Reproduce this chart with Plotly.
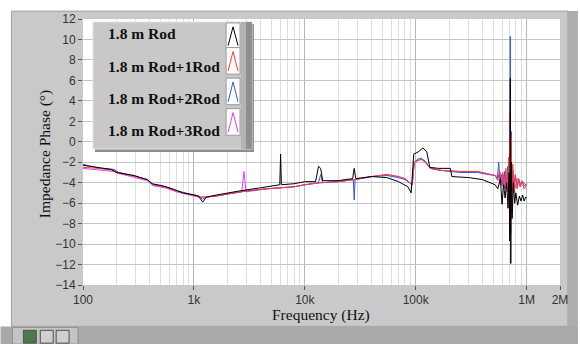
import plotly.graph_objects as go

# ---------------- data ----------------
freq_black = [100, 130, 180, 200, 290, 330, 380, 420, 520, 640, 800, 1000, 1100, 1200, 1300,
              1600, 2000, 2600, 4000, 5500, 5950, 6050, 6150, 8000, 10000, 12500, 13300, 13900,
              14500, 20000, 27000, 27900, 28800, 40000, 55000, 70000, 85000, 91000, 96000,
              105000, 116000, 126000, 134000, 160000, 205000, 212000, 300000, 400000, 480000,
              520000, 550000, 580000, 600000, 620000, 640000, 660000, 680000, 695000, 705000,
              713000, 720000, 728000, 740000, 760000, 780000, 800000, 830000, 860000, 890000,
              920000, 950000, 980000, 1000000]
phase_black = [-2.3, -2.5, -2.7, -3.0, -3.3, -3.5, -3.7, -4.1, -4.3, -4.6, -5.0, -5.2, -5.3, -5.9, -5.4,
               -5.2, -5.0, -4.8, -4.5, -4.2, -4.2, -1.2, -4.2, -4.1, -3.9, -3.9, -2.4, -2.6,
               -3.8, -3.8, -3.6, -2.6, -3.6, -3.4, -3.5, -3.9, -4.4, -5.0, -1.2,
               -1.0, -0.6, -1.0, -2.5, -2.6, -2.6, -3.4, -3.5, -3.7, -4.0,
               -4.2, -4.6, -3.6, -6.1, -4.2, -5.5, -4.0, -6.5, -3.0, -9.7,
               6.2, -11.9, -2.0, -7.5, -4.0, -6.0, -5.0, -6.2, -5.3, -5.8,
               -5.2, -5.8, -5.4, -5.5]

freq_red = [100, 140, 190, 210, 300, 380, 430, 550, 700, 900, 1100, 1300, 1600, 2000, 3000,
            4500, 6000, 8000, 10000, 14000, 20000, 28000, 40000, 55000, 70000, 80000, 88000,
            93000, 97000, 105000, 112000, 122000, 135000, 170000, 250000, 360000, 450000,
            520000, 550000, 570000, 590000, 610000, 630000, 650000, 670000, 690000, 700000,
            710000, 718000, 726000, 735000, 750000, 770000, 790000, 820000, 850000, 880000,
            910000, 950000, 1000000]
phase_red = [-2.5, -2.6, -2.8, -3.0, -3.4, -3.7, -4.2, -4.4, -4.8, -5.1, -5.4, -5.4, -5.3, -5.1, -4.8,
             -4.6, -4.5, -4.4, -4.2, -4.0, -3.9, -3.7, -3.4, -3.2, -3.4, -3.6, -4.0,
             -4.2, -2.0, -1.8, -1.7, -2.0, -2.6, -2.8, -2.9, -2.9, -3.1,
             -3.3, -3.8, -2.8, -4.3, -3.0, -4.6, -2.6, -4.9, -1.5, -5.5,
             2.8, -9.0, 0.5, -7.0, -2.2, -5.0, -3.2, -4.6, -3.6, -4.4,
             -3.8, -4.6, -4.2]

freq_blue = [100, 140, 190, 210, 300, 380, 430, 550, 700, 900, 1100, 1200, 1300, 1600, 2000,
             3000, 4500, 6000, 8000, 10000, 13300, 13900, 14500, 20000, 27400, 27900, 28400,
             40000, 55000, 70000, 80000, 88000, 93000, 97000, 105000, 112000, 122000, 135000,
             170000, 250000, 360000, 450000, 520000, 545000, 560000, 575000, 595000, 615000,
             635000, 655000, 675000, 695000, 705000, 712000, 719000, 727000, 737000, 752000,
             772000, 792000, 822000, 852000, 882000, 912000, 952000, 1000000]
phase_blue = [-2.2, -2.6, -2.7, -3.0, -3.4, -3.7, -4.2, -4.4, -4.8, -5.1, -5.3, -5.6, -5.4, -5.3, -5.1,
              -4.8, -4.6, -4.5, -4.4, -4.2, -4.0, -3.2, -4.0, -3.9, -3.7, -5.7, -3.7,
              -3.4, -3.3, -3.5, -3.7, -4.0, -4.2, -2.0, -1.7, -1.6, -1.9, -2.6,
              -2.8, -3.0, -3.0, -3.2, -3.3, -3.6, -2.0, -4.0, -3.2, -4.4,
              -2.9, -4.6, -2.4, -5.0, -3.0, 10.3, -6.0, 1.0, -5.0, -2.8,
              -4.4, -3.3, -4.3, -3.7, -4.2, -3.9, -4.3, -4.1]

freq_magenta = [100, 150, 190, 210, 300, 380, 430, 550, 700, 900, 1100, 1300, 1600, 2000, 2700,
                2830, 2950, 4500, 6000, 8000, 10000, 14000, 20000, 28000, 40000, 55000, 70000,
                80000, 88000, 93000, 97000, 105000, 112000, 122000, 135000, 170000, 250000,
                360000, 450000, 520000, 555000, 575000, 600000, 625000, 650000, 675000, 695000,
                708000, 716000, 724000, 740000, 760000, 790000, 830000, 870000, 920000, 1000000]
phase_magenta = [-2.6, -2.75, -2.9, -3.1, -3.5, -3.8, -4.3, -4.5, -4.9, -5.2, -5.4, -5.4, -5.3, -5.1, -4.9,
                 -2.9, -4.9, -4.6, -4.5, -4.4, -4.2, -4.0, -3.9, -3.7, -3.4, -3.2, -3.4,
                 -3.6, -4.0, -4.2, -2.0, -1.8, -1.7, -2.0, -2.6, -2.8, -2.9,
                 -2.9, -3.1, -3.3, -3.4, -3.0, -4.1, -3.2, -4.5, -3.0, -4.8,
                 3.0, -6.5, 0.0, -4.8, -3.2, -4.5, -3.6, -4.4, -3.9, -4.3]

series_names = ["1.8 m Rod", "1.8 m Rod+1Rod", "1.8 m Rod+2Rod", "1.8 m Rod+3Rod"]
series_colors = ["#000000", "#ff3b3b", "#2e55ee", "#dd44ff"]

x_tick_vals = [100, 1000, 10000, 100000, 1000000, 2000000]
x_tick_text = ["100", "1k", "10k", "100k", "1M", "2M"]
y_tick_vals = list(range(-14, 13, 2))
y_tick_text = [str(v).replace("-", "\u2212") for v in y_tick_vals]

# ---------------- geometry helpers ----------------
W, H = 580, 344
L, R, T, B = 83, 563, 15, 285   # plot area in pixels


def px(x):
    return (x - L) / (R - L)


def py(y):
    return (B - y) / (B - T)


fig = go.Figure()
data = [(freq_magenta, phase_magenta, 3), (freq_blue, phase_blue, 2),
        (freq_red, phase_red, 1), (freq_black, phase_black, 0)]
for fx, fy, idx in data:
    fig.add_trace(go.Scatter(x=fx, y=fy, mode="lines", name=series_names[idx],
                             line=dict(color=series_colors[idx], width=1),
                             showlegend=False, hoverinfo="skip"))

minor_vals = []
for dec in [100, 1000, 10000, 100000, 1000000]:
    for m in range(2, 10):
        if dec * m <= 2000000:
            minor_vals.append(dec * m)

shapes = []
# outer gray panel
shapes.append(dict(type="rect", xref="paper", yref="paper", x0=px(11), x1=px(571),
                   y0=py(327), y1=py(7), fillcolor="#c9c9c9",
                   line=dict(color="#a0a0a0", width=1), layer="below"))
# right dark strip
shapes.append(dict(type="rect", xref="paper", yref="paper", x0=px(571), x1=px(581),
                   y0=py(345), y1=py(7), fillcolor="#adadad", line=dict(width=0), layer="below"))
# bottom toolbar
shapes.append(dict(type="rect", xref="paper", yref="paper", x0=px(0), x1=px(581),
                   y0=py(345), y1=py(327), fillcolor="#a9a9a9", line=dict(width=0), layer="below"))
shapes.append(dict(type="rect", xref="paper", yref="paper", x0=px(12), x1=px(78),
                   y0=py(345), y1=py(328), fillcolor="#c4c4c4", line=dict(color="#909090", width=1),
                   layer="below"))
for ix, c in [(23, "#4a7a4a"), (40, "#d0d0d0"), (56, "#d0d0d0")]:
    shapes.append(dict(type="rect", xref="paper", yref="paper", x0=px(ix), x1=px(ix + 13),
                       y0=py(344), y1=py(331), fillcolor=c, line=dict(color="#505050", width=1),
                       layer="below"))
# white plot area
shapes.append(dict(type="rect", xref="paper", yref="paper", x0=0, x1=1, y0=0, y1=1,
                   fillcolor="#ffffff", line=dict(width=0), layer="below"))

# legend box (drawn above the data)
lg_l, lg_r, lg_t, lg_b = 93, 253, 18, 147
shapes.append(dict(type="rect", xref="paper", yref="paper", x0=px(lg_l + 2), x1=px(lg_r + 2),
                   y0=py(lg_b + 3), y1=py(lg_t + 2), fillcolor="#8e8e8e", line=dict(width=0)))
shapes.append(dict(type="rect", xref="paper", yref="paper", x0=px(lg_l), x1=px(lg_r),
                   y0=py(lg_b), y1=py(lg_t), fillcolor="#c8c8c8", line=dict(color="#e6e6e6", width=1)))
shapes.append(dict(type="rect", xref="paper", yref="paper", x0=px(242), x1=px(lg_r),
                   y0=py(lg_b), y1=py(lg_t), fillcolor="#b4b4b4", line=dict(width=0)))
shapes.append(dict(type="rect", xref="paper", yref="paper", x0=px(247), x1=px(lg_r),
                   y0=py(lg_b), y1=py(lg_t), fillcolor="#8f8f8f", line=dict(width=0)))
boxes = [(19, 45), (44, 71), (75, 102), (106, 133)]
for (bt, bb), col in zip(boxes, series_colors):
    shapes.append(dict(type="rect", xref="paper", yref="paper", x0=px(227), x1=px(241),
                       y0=py(bb), y1=py(bt), fillcolor="#ffffff", line=dict(color="#9a9a9a", width=1)))
    path = "M {} {} L {} {} L {} {}".format(px(229), py(bb - 3), px(234), py(bt + 4), px(239), py(bb - 3))
    shapes.append(dict(type="path", xref="paper", yref="paper", path=path,
                       line=dict(color=col, width=1)))

annotations = []
for name, yc in zip(series_names, [30, 63, 96, 128]):
    annotations.append(dict(x=px(106), y=py(yc), xref="paper", yref="paper", text="<b>" + name + "</b>",
                            showarrow=False, xanchor="left", yanchor="middle",
                            font=dict(family="Liberation Serif", size=15.5, color="#111111")))
annotations.append(dict(x=px(322), y=py(315), xref="paper", yref="paper", text="Frequency (Hz)",
                        showarrow=False, xanchor="center", yanchor="middle",
                        font=dict(family="Liberation Serif", size=15.5, color="#111111")))
annotations.append(dict(x=px(45), y=py(152), xref="paper", yref="paper", text="Impedance Phase (\u00b0)",
                        showarrow=False, xanchor="center", yanchor="middle", textangle=-90,
                        font=dict(family="Liberation Serif", size=15.5, color="#111111")))

fig.update_layout(
    width=W, height=H,
    margin=dict(l=L, r=W - R, t=T, b=H - B, pad=0),
    paper_bgcolor="#ffffff", plot_bgcolor="rgba(0,0,0,0)",
    shapes=shapes, annotations=annotations, showlegend=False,
    xaxis=dict(type="log", range=[2, 6.30103], tickvals=x_tick_vals, ticktext=x_tick_text,
               showgrid=True, gridcolor="#b8b8b8", gridwidth=1,
               ticks="outside", ticklen=4, tickcolor="#555555",
               tickfont=dict(family="Liberation Sans", size=12, color="#333333"),
               minor=dict(tickvals=minor_vals, showgrid=True, gridcolor="#dedede", ticks=""),
               zeroline=False, showline=False, fixedrange=True),
    yaxis=dict(range=[-14, 12], tickvals=y_tick_vals, ticktext=y_tick_text,
               showgrid=True, gridcolor="#c4c4c4", gridwidth=1,
               ticks="outside", ticklen=4, tickcolor="#555555",
               tickfont=dict(family="Liberation Sans", size=12, color="#333333"),
               zeroline=False, showline=False, fixedrange=True),
)

fig.write_html("out.html", config={"displayModeBar": False})
